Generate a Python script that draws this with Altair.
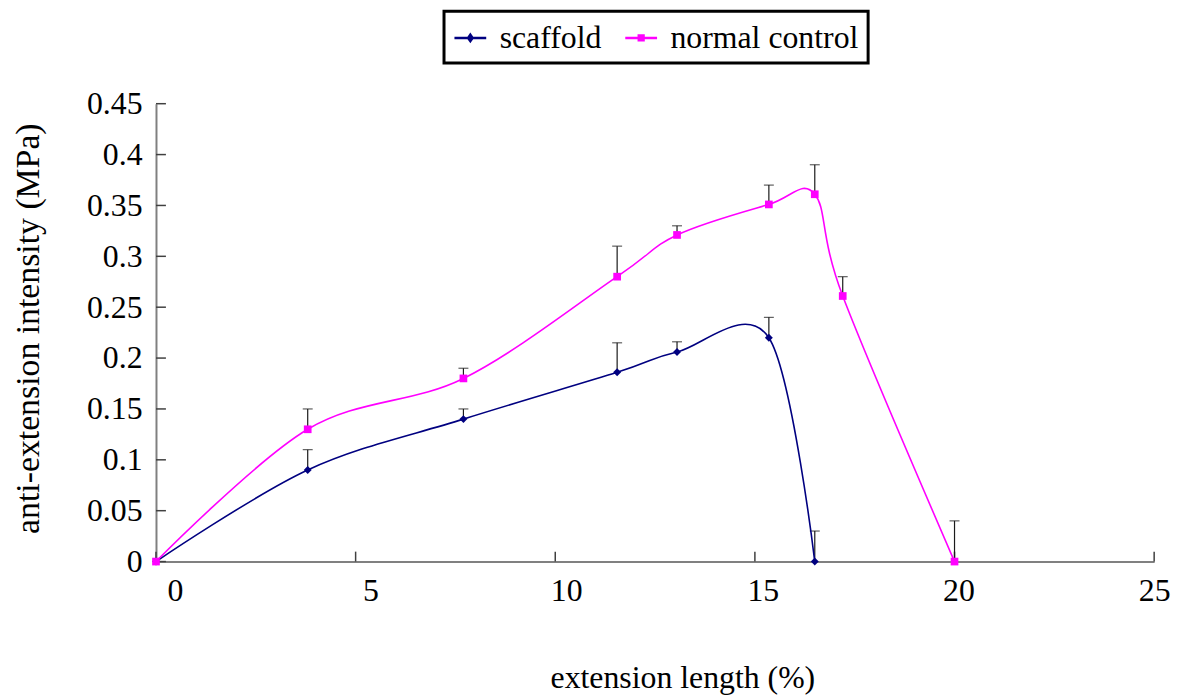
import altair as alt
import pandas as pd

# ---------------- data ----------------
series_names = ["scaffold", "normal control"]
series_colors = ["#000080", "#FF00FF"]

scaffold_x = [0, 3.8, 7.7, 11.55, 13.05, 15.35, 16.5]
scaffold_y = [0, 0.09, 0.14, 0.186, 0.206, 0.22, 0]
scaffold_top = [None, 0.11, 0.15, 0.215, 0.216, 0.24, 0.03]

normal_x = [0, 3.8, 7.7, 11.55, 13.05, 15.35, 16.5, 17.2, 20.0]
normal_y = [0, 0.13, 0.18, 0.28, 0.321, 0.351, 0.361, 0.261, 0]
normal_top = [None, 0.15, 0.19, 0.31, 0.33, 0.37, 0.39, 0.28, 0.04]

x_ticks = [0, 5, 10, 15, 20, 25]
x_label_shift = [19, 15, 11, 8, 4, 0]
y_ticks = [0, 0.05, 0.1, 0.15, 0.2, 0.25, 0.3, 0.35, 0.4, 0.45]

# ---------------- tables ----------------
rows = []
for xv, yv, tv in zip(scaffold_x, scaffold_y, scaffold_top):
    rows.append({"series": series_names[0], "x": xv, "y": yv, "top": tv})
for xv, yv, tv in zip(normal_x, normal_y, normal_top):
    rows.append({"series": series_names[1], "x": xv, "y": yv, "top": tv})
df = pd.DataFrame(rows)
xt = pd.DataFrame({"v": x_ticks})
yt = pd.DataFrame({"v": y_ticks})

W, H = 1005, 461
FONT = "Liberation Serif"

xscale = alt.Scale(domain=[0, 25], nice=False, zero=False)
yscale = alt.Scale(domain=[0, 0.45], nice=False, zero=False)

base = alt.Chart(df)

x_label_offset = {
    "condition": [{"test": f"datum.value == {v}", "value": s}
                  for v, s in zip(x_ticks, x_label_shift)],
    "value": 10,
}

x_axis = alt.Axis(values=x_ticks, title="extension length (%)", grid=False, ticks=False,
                  tickSize=0, domainColor="#808080", domainWidth=2,
                  labelFont=FONT, labelFontSize=32, labelColor="black", labelPadding=14,
                  labelFlush=False, labelOffset=x_label_offset,
                  titleFont=FONT, titleFontSize=32, titleFontWeight="normal", titleColor="black",
                  titleX=530, titleY=117, titleBaseline="middle", titleAnchor="middle")
y_axis = alt.Axis(values=y_ticks, title="anti-extension intensity (MPa)", grid=False, ticks=False,
                  tickSize=0, domainColor="#808080", domainWidth=2, format="~g",
                  labelFont=FONT, labelFontSize=32, labelColor="black", labelPadding=14,
                  labelFlush=False,
                  titleFont=FONT, titleFontSize=34, titleFontWeight="normal", titleColor="black",
                  titleX=-128, titleY=226, titleBaseline="middle", titleAngle=270,
                  titleAnchor="middle")

# inward tick marks
ytick_layer = alt.Chart(yt).mark_rule(color="#404040", strokeWidth=1.5).encode(
    y=alt.Y("v:Q", scale=yscale, axis=y_axis),
    x=alt.value(0), x2=alt.value(10))
xtick_layer = alt.Chart(xt).mark_rule(color="#404040", strokeWidth=1.5).encode(
    x=alt.X("v:Q", scale=xscale, axis=x_axis),
    y=alt.value(H), y2=alt.value(H - 10))

# error bars (upper only)
err = base.transform_filter("isValid(datum.top)")
err_rule = err.mark_rule(color="#1a1a1a", strokeWidth=1.2).encode(
    x=alt.X("x:Q", scale=xscale), y=alt.Y("y:Q", scale=yscale), y2="top:Q")
err_cap = err.mark_tick(orient="horizontal", size=10, thickness=1.2, color="#1a1a1a").encode(
    x=alt.X("x:Q", scale=xscale), y=alt.Y("top:Q", scale=yscale))

# smoothed lines, one layer per series
line_s = base.transform_filter(alt.datum.series == series_names[0]).mark_line(
    interpolate="cardinal", strokeWidth=1.6, color=series_colors[0]).encode(
    x=alt.X("x:Q", scale=xscale), y=alt.Y("y:Q", scale=yscale))
line_n = base.transform_filter(alt.datum.series == series_names[1]).mark_line(
    interpolate="cardinal", strokeWidth=1.6, color=series_colors[1]).encode(
    x=alt.X("x:Q", scale=xscale), y=alt.Y("y:Q", scale=yscale))

# markers
pts_s = base.transform_filter(alt.datum.series == series_names[0]).mark_point(
    shape="diamond", filled=True, size=64, opacity=1, color=series_colors[0]).encode(
    x=alt.X("x:Q", scale=xscale), y=alt.Y("y:Q", scale=yscale))
pts_n = base.transform_filter(alt.datum.series == series_names[1]).mark_point(
    shape="square", filled=True, size=60, opacity=1, color=series_colors[1]).encode(
    x=alt.X("x:Q", scale=xscale), y=alt.Y("y:Q", scale=yscale))

# legend-only layer (marks invisible)
leg_shapes = ["M-1,0H1M0,-0.2L0.14,0L0,0.2L-0.14,0Z",
              "M-1,0H1M-0.15,-0.15H0.15V0.15H-0.15Z"]
legend = alt.Legend(title=None, labelFont=FONT, labelFontSize=32, labelColor="black",
                    labelLimit=400, labelOffset=12)
leg_layer = base.mark_point(filled=False, opacity=0, strokeWidth=2.5).encode(
    x=alt.X("x:Q", scale=xscale), y=alt.Y("y:Q", scale=yscale),
    color=alt.Color("series:N", scale=alt.Scale(domain=series_names, range=series_colors),
                    legend=legend),
    shape=alt.Shape("series:N", scale=alt.Scale(domain=series_names, range=leg_shapes),
                    legend=legend))

chart = alt.layer(ytick_layer, xtick_layer, err_rule, err_cap, line_s, line_n, pts_s, pts_n,
                  leg_layer).properties(
    width=W, height=H,
    padding={"left": 149, "top": 94, "right": 23, "bottom": 133},
    autosize=alt.AutoSizeParams(type="none"),
).configure(font=FONT).configure_view(stroke=None).configure_legend(
    orient="none", legendX=290, legendY=-93, direction="horizontal",
    labelFont=FONT, labelFontSize=32, labelColor="black", labelOffset=12, labelLimit=400,
    symbolSize=1024, symbolStrokeWidth=2.5, symbolOpacity=1, symbolFillColor="transparent",
    columnPadding=18, padding=9, strokeColor="black", fillColor="white", strokeWidth=3)

chart.save("out.html", embed_options={"renderer": "svg", "actions": False})
